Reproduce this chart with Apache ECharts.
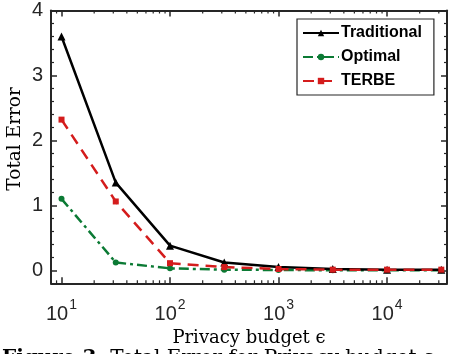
<!DOCTYPE html>
<html>
<head>
<meta charset="utf-8">
<script src="https://cdn.jsdelivr.net/npm/echarts@6/dist/echarts.min.js"></script>
<style>html,body{margin:0;padding:0;background:#fff;}#c{width:449px;height:354px;}</style>
</head>
<body>
<div id="c"></div>
<script>
// ---- data ----
const budgets = [10, 31.62, 100, 316.2, 1000, 3162, 10000, 31623];
const traditional = [3.6, 1.35, 0.38, 0.12, 0.05, 0.02, 0.01, 0.01];
const optimal = [1.1, 0.12, 0.03, 0.01, 0.005, 0.0, 0.0, 0.0];
const terbe = [2.32, 1.06, 0.11, 0.05, 0.02, 0.01, 0.01, 0.01];
const seriesNames = ['Traditional', 'Optimal', 'TERBE'];
const xTitle = 'Privacy budget ϵ';
const yTitle = 'Total Error';
const caption = ['Figure 3:', ' Total Error for Privacy budget ϵ'];

// log minor tick positions (axis structure)
const minorTicks = [];
for (let e = 0; e <= 4; e++) {
  for (let m = 2; m <= 9; m++) {
    const v = m * Math.pow(10, e);
    if (v >= 8 && v <= 35700) minorTicks.push(v);
  }
}

const X_MIN = 8, X_MAX = 35700, Y_MIN = -0.2, Y_MAX = 4;
const AX = '#262626';

function pair(xs, ys) { return xs.map((x, i) => [x, ys[i]]); }

const chart = echarts.init(document.getElementById('c'), null, {renderer: 'canvas'});

const baseX = {
  type: 'log', logBase: 10, min: X_MIN, max: X_MAX,
  axisLine: {show: true, onZero: false, lineStyle: {color: AX, width: 2}},
  axisTick: {show: true, inside: true, length: 6, lineStyle: {color: AX, width: 1.5}},
  minorTick: {show: false},
  splitLine: {show: false}
};
const baseY = {
  type: 'value', min: Y_MIN, max: Y_MAX, splitNumber: 4,
  axisLine: {show: true, onZero: false, lineStyle: {color: AX, width: 2}},
  axisTick: {show: true, inside: true, length: 6, lineStyle: {color: AX, width: 1.5}},
  minorTick: {show: true, splitNumber: 5, length: 3, lineStyle: {color: AX, width: 1.2}},
  splitLine: {show: false}
};

const option = {
  animation: false,
  backgroundColor: '#fff',
  grid: {left: 51, right: 2, top: 10.5, bottom: 70.7, containLabel: false, outerBoundsMode: 'none'},
  xAxis: [
    Object.assign({}, baseX, {
      position: 'bottom',
      name: xTitle, nameLocation: 'middle', nameGap: 46, nameMoveOverlap: false,
      nameTextStyle: {fontFamily: 'DejaVu Serif', fontSize: 18, color: '#000'},
      axisLabel: {
        show: true, margin: 15, showMinLabel: false, showMaxLabel: false,
        formatter: v => '{b|10}{s|' + Math.round(Math.log10(v)) + '}',
        rich: {
          b: {fontFamily: 'Liberation Sans', fontSize: 20, color: '#262626', lineHeight: 26, verticalAlign: 'bottom'},
          s: {fontFamily: 'Liberation Sans', fontSize: 14, color: '#262626', lineHeight: 14, verticalAlign: 'top', padding: [0, 0, 0, 1]}
        }
      }
    }),
    Object.assign({}, baseX, {position: 'top', axisLabel: {show: false}})
  ],
  yAxis: [
    Object.assign({}, baseY, {
      position: 'left',
      name: yTitle, nameLocation: 'middle', nameGap: 26, nameMoveOverlap: false,
      nameTextStyle: {fontFamily: 'DejaVu Serif', fontSize: 18.5, color: '#000', padding: [0, 0, 0, 16]},
      axisLabel: {show: true, margin: 8, showMinLabel: false, fontFamily: 'Liberation Sans', fontSize: 20, color: '#262626'}
    }),
    Object.assign({}, baseY, {position: 'right', axisLabel: {show: false}})
  ],
  legend: {
    show: true, orient: 'vertical', left: 297, top: 19,
    data: seriesNames,
    backgroundColor: '#fff', borderColor: '#262626', borderWidth: 1.2,
    padding: [6, 12, 6, 5],
    itemWidth: 36, itemHeight: 8, itemGap: 8,
    textStyle: {fontFamily: 'Liberation Sans', fontWeight: 'bold', fontSize: 16, color: '#000', lineHeight: 16, padding: [0, 0, 0, -3]}
  },
  graphic: [{
    type: 'text', left: 2, top: 349,
    style: {
      text: '{a|' + caption[0] + '}{n|' + caption[1] + '}',
      rich: {
        a: {fontFamily: 'DejaVu Serif', fontWeight: 'bold', fontSize: 20, fill: '#000'},
        n: {fontFamily: 'DejaVu Serif', fontSize: 20, fill: '#000'}
      }
    }
  }],
  series: [
    {
      name: seriesNames[0], type: 'line', xAxisIndex: 0, yAxisIndex: 0,
      data: pair(budgets, traditional),
      symbol: 'triangle', symbolSize: 8,
      lineStyle: {color: '#000', width: 2.5, type: 'solid'},
      itemStyle: {color: '#000'}, z: 4
    },
    {
      name: seriesNames[1], type: 'line', xAxisIndex: 0, yAxisIndex: 0,
      data: pair(budgets, optimal),
      symbol: 'circle', symbolSize: 6,
      lineStyle: {color: '#0b7a34', width: 2.5, type: [10, 4, 3, 4]},
      itemStyle: {color: '#0b7a34'}, z: 3
    },
    {
      name: seriesNames[2], type: 'line', xAxisIndex: 0, yAxisIndex: 0,
      data: pair(budgets, terbe),
      symbol: 'rect', symbolSize: 6,
      lineStyle: {color: '#d41c1c', width: 2.5, type: [11, 7]},
      itemStyle: {color: '#d41c1c'}, z: 5
    },
    {
      name: 'minorTicks', type: 'custom', xAxisIndex: 0, yAxisIndex: 0,
      silent: true, clip: false, z: 6,
      data: minorTicks.map(v => [v, Y_MIN]),
      renderItem: function (params, api) {
        const b = api.coord([api.value(0), Y_MIN]);
        const t = api.coord([api.value(0), Y_MAX]);
        const st = {stroke: AX, lineWidth: 1.2};
        return {
          type: 'group',
          children: [
            {type: 'line', shape: {x1: b[0], y1: b[1], x2: b[0], y2: b[1] - 3}, style: st},
            {type: 'line', shape: {x1: t[0], y1: t[1], x2: t[0], y2: t[1] + 3}, style: st}
          ]
        };
      }
    }
  ]
};
chart.setOption(option);
</script>
</body>
</html>
